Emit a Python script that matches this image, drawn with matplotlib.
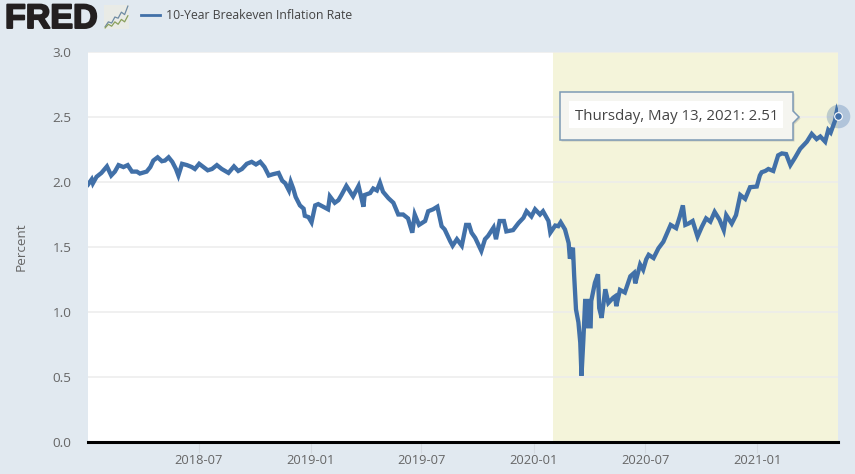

import numpy as np
import matplotlib
matplotlib.use('Agg')
import matplotlib.pyplot as plt
import matplotlib.patheffects as pe
from matplotlib.patches import Polygon, Rectangle


WIDTH, HEIGHT = 855, 474

START_DATE = np.datetime64('2018-01-01')
END_DATE = np.datetime64('2021-05-13')
RECESSION_START = np.datetime64('2020-02-01')

# days since START_DATE
day_offsets = [
    0, 6, 8, 14, 22, 31, 38, 44, 50, 58, 65, 72, 80, 85, 96, 102, 107, 114, 121, 126,
    132, 138, 144, 148, 154, 162, 170, 175, 182, 189, 196, 203, 211, 219, 230, 239,
    246, 252, 260, 268, 275, 282, 289, 296, 303, 312, 318, 323, 329, 332, 336, 340,
    347, 353, 355, 361, 366, 372, 377, 385, 393, 396, 404, 410, 415, 423, 434, 443,
    451, 453, 462, 467, 473, 478, 483, 492, 500, 508, 516, 524, 531, 535, 542, 552,
    557, 565, 572, 579, 584, 593, 597, 604, 612, 619, 624, 628, 634, 644, 650, 655,
    664, 668, 674, 681, 685, 696, 705, 713, 718, 726, 732, 740, 745, 754, 757, 765,
    770, 774, 781, 787, 789, 794, 796, 799, 803, 806, 808, 811, 814, 818, 819, 823,
    824, 830, 835, 837, 841, 847, 852, 860, 863, 865, 871, 879, 888, 894, 896, 904,
    909, 914, 918, 926, 934, 942, 948, 954, 963, 969, 974, 978, 983, 990, 998, 1005,
    1012, 1019, 1026, 1034, 1041, 1045, 1054, 1061, 1068, 1076, 1084, 1095, 1100,
    1103, 1109, 1114, 1122, 1130, 1136, 1143, 1150, 1158, 1166, 1177, 1185, 1193,
    1199, 1207, 1212, 1216, 1223, 1226, 1228,
]
rates = [
    1.98, 2.02, 1.99, 2.04, 2.07, 2.12, 2.05, 2.08, 2.13, 2.115, 2.13, 2.08, 2.08, 2.065, 2.08, 2.115, 2.165, 2.19, 2.16, 2.165,
    2.19, 2.155, 2.10, 2.05, 2.14, 2.13, 2.115, 2.10, 2.14, 2.115, 2.09, 2.10, 2.13, 2.10, 2.07, 2.12,
    2.085, 2.10, 2.14, 2.155, 2.135, 2.155, 2.115, 2.05, 2.06, 2.07, 2.01, 1.99, 1.935, 2.0, 1.95, 1.885,
    1.82, 1.795, 1.74, 1.73, 1.69, 1.82, 1.83, 1.81, 1.79, 1.89, 1.84, 1.86, 1.90, 1.97, 1.89, 1.97,
    1.81, 1.90, 1.915, 1.95, 1.935, 1.995, 1.925, 1.875, 1.84, 1.75, 1.75, 1.72, 1.61, 1.75, 1.67, 1.70,
    1.775, 1.79, 1.81, 1.66, 1.635, 1.545, 1.51, 1.56, 1.51, 1.67, 1.67, 1.61, 1.57, 1.47, 1.56, 1.585,
    1.65, 1.56, 1.70, 1.70, 1.62, 1.63, 1.685, 1.725, 1.775, 1.735, 1.79, 1.75, 1.775, 1.70, 1.61, 1.665,
    1.66, 1.69, 1.635, 1.53, 1.41, 1.495, 1.28, 1.02, 0.92, 0.765, 0.51, 0.78, 1.085, 1.085, 0.89, 0.89,
    1.085, 1.225, 1.29, 1.03, 0.955, 1.175, 1.07, 1.11, 1.12, 1.045, 1.17, 1.15, 1.275, 1.30, 1.22, 1.365,
    1.325, 1.405, 1.44, 1.415, 1.49, 1.54, 1.605, 1.67, 1.645, 1.735, 1.82, 1.67, 1.68, 1.70, 1.58, 1.655,
    1.72, 1.695, 1.77, 1.71, 1.63, 1.745, 1.68, 1.745, 1.90, 1.87, 1.96, 1.965, 2.05,
    2.075, 2.085, 2.10, 2.085, 2.205, 2.22, 2.215, 2.13, 2.19, 2.255, 2.31, 2.37, 2.33,
    2.35, 2.31, 2.40, 2.38, 2.47, 2.54, 2.51,
]

x_tick_dates = ['2018-07-01', '2019-01-01', '2019-07-01', '2020-01-01', '2020-07-01', '2021-01-01']
x_tick_labels = ['2018-07', '2019-01', '2019-07', '2020-01', '2020-07', '2021-01']
y_ticks = [0.0, 0.5, 1.0, 1.5, 2.0, 2.5, 3.0]

# the two little lines in the logo icon
icon_upper = [0.1, 0.3, 0.25, 0.5, 0.45, 0.7, 0.6, 0.95]
icon_lower = [0.05, 0.2, 0.12, 0.3, 0.2, 0.4, 0.3, 0.55]

BLUE = '#4170a8'
BACKGROUND = '#e1e9f0'
RECESSION = '#f4f4da'
GRID = '#ececec'
TEXT = '#666666'
FONT = 'Open Sans'


def fx(px):
    return px / WIDTH


def fy(px):
    return 1 - px / HEIGHT


def draw_header(fig):
    fig.text(fx(5), fy(28), 'FRED', family='Liberation Sans', weight='bold',
             fontsize=24.5, color='#231f20', ha='left', va='baseline',
             path_effects=[pe.withStroke(linewidth=1.4, foreground='#231f20')])

    icon = fig.add_axes([fx(104), fy(29), fx(25), 24 / HEIGHT], facecolor='#e9ebe6')
    icon.plot(icon_upper, color='#6f8ba3', lw=0.9)
    icon.plot(icon_lower, color='#8aa05c', lw=0.9)
    icon.set_axis_off()
    icon.add_patch(Rectangle((0, 0), 1, 1, transform=icon.transAxes,
                             facecolor='#e9ebe6', zorder=0))

    fig.add_artist(plt.Line2D([fx(141), fx(160)], [fy(15), fy(15)], color=BLUE, lw=2))
    fig.text(fx(166), fy(15.5), '10-Year Breakeven Inflation Rate', family=FONT,
             fontsize=8.85, color='#444444', ha='left', va='center')


def draw_tooltip(fig):
    box = [(560, 92), (793, 92), (793, 111), (799, 117), (793, 123), (793, 140), (560, 140)]
    shadow = [(x + 1.5, y + 1.5) for x, y in box]
    fig.add_artist(Polygon([(fx(x), fy(y)) for x, y in shadow], closed=True,
                           transform=fig.transFigure, facecolor='#8a8a8a', alpha=0.35,
                           edgecolor='none', zorder=6))
    fig.add_artist(Polygon([(fx(x), fy(y)) for x, y in box], closed=True,
                           transform=fig.transFigure, facecolor='#f5f5f0',
                           edgecolor='#7d9ab5', lw=1.1, zorder=7))
    fig.add_artist(Rectangle((fx(569), fy(128)), fx(214), 27 / HEIGHT,
                             transform=fig.transFigure, facecolor='white',
                             edgecolor='none', zorder=8))
    fig.text(fx(575), fy(116), 'Thursday, May 13, 2021: 2.51', family=FONT, fontsize=10.85,
             color='#444444', ha='left', va='center', zorder=9)


def main():
    dates = START_DATE + np.array(day_offsets).astype('timedelta64[D]')

    fig = plt.figure(figsize=(WIDTH / 100, HEIGHT / 100), dpi=100, facecolor=BACKGROUND)
    ax_width = 750 / WIDTH
    ax = fig.add_axes([fx(88), fy(442), ax_width, 390 / HEIGHT], facecolor='white')

    ax.axvspan(RECESSION_START, END_DATE, color=RECESSION, lw=0, zorder=0)
    ax.plot(dates, rates, color=BLUE, lw=3.1, solid_joinstyle='miter', zorder=3)

    # highlighted last point
    ax.plot(dates[-1], rates[-1], 'o', ms=17, color=BLUE, alpha=0.3, mew=0, clip_on=False, zorder=4)
    ax.plot(dates[-1], rates[-1], 'o', ms=5.5, color=BLUE, mec='white', mew=0.8, clip_on=False, zorder=5)

    ax.set_xlim(START_DATE, END_DATE)
    ax.set_ylim(0, 3)
    ax.set_yticks(y_ticks)
    ax.set_yticklabels([f'{v:.1f}' for v in y_ticks], family=FONT, fontsize=9.7, color=TEXT)
    ax.set_xticks(np.array(x_tick_dates, dtype='datetime64[D]'))
    ax.set_xticklabels(x_tick_labels, family=FONT, fontsize=9.3, color=TEXT)
    ax.tick_params(axis='y', length=0, pad=12)
    ax.tick_params(axis='x', length=8, width=0.8, color='#d4dae0', pad=1)
    ax.grid(axis='y', color=GRID, lw=1.1, zorder=1)
    ax.set_axisbelow(True)
    for side in ['top', 'right', 'left']:
        ax.spines[side].set_visible(False)
    ax.spines['bottom'].set_color('black')
    ax.spines['bottom'].set_linewidth(2.2)
    ax.set_ylabel('Percent', family=FONT, fontsize=9.7, color=TEXT, va='center')
    ax.yaxis.set_label_coords((fx(21) - fx(88)) / ax_width, 0.5)

    draw_header(fig)
    draw_tooltip(fig)

    fig.savefig('out.png', dpi=100, facecolor=BACKGROUND)


if __name__ == '__main__':
    assert len(day_offsets) == len(rates), (len(day_offsets), len(rates))
    main()
